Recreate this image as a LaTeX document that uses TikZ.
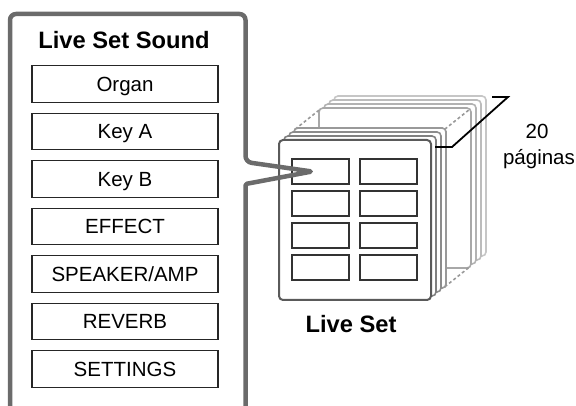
\documentclass[tikz,border=0pt]{standalone}
\usepackage{fontspec}
\setmainfont{Liberation Sans}
\usepackage{tikz}

\definecolor{framegray}{HTML}{6B6B6B}
\definecolor{pagefront}{HTML}{5A5A5A}
\definecolor{pagea}{HTML}{808080}
\definecolor{pageb}{HTML}{8C8C8C}
\definecolor{pagec}{HTML}{999999}
\definecolor{paged}{HTML}{A8A8A8}
\definecolor{pagee}{HTML}{B2B2B2}
\definecolor{pagef}{HTML}{BCBCBC}
\definecolor{pageg}{HTML}{C6C6C6}

\tikzset{
	slot/.style={draw=black!85, line width=1.1pt, minimum width=186pt, minimum height=36.5pt,
		inner sep=0pt, text height=14.7pt, text depth=0pt, font=\fontsize{20.5}{24}\selectfont},
	cell/.style={draw=black!80, line width=1.1pt, minimum width=57pt, minimum height=25pt, inner sep=0pt},
	page/.style={fill=white, rounded corners=4pt, line width=1.6pt, minimum width=152pt,
		minimum height=160pt, inner sep=0pt, outer sep=0pt},
	note/.style={anchor=base, font=\fontsize{20.5}{24}\selectfont},
}

\begin{document}
\begin{tikzpicture}[x=1pt, y=-1pt]
\useasboundingbox (0,0) rectangle (576,406);

% stack of pages, back to front
\foreach \k/\c in {11/pageg, 10/pagef, 9/pagee, 8/paged} {
	\node[page, draw=\c] (page\k) at (355 + 5*\k, 220 - 4*\k) {};
}
\node[page, draw=pagec] (page3) at (370, 208) {};
\draw[pagec, line width=1.6pt, dash pattern=on 3pt off 2.5pt]
	([shift={(1.2,1.2)}]page3.north west) -- ([shift={(1.2,1.2)}]page8.north west);
\draw[pagec, line width=1.6pt, dash pattern=on 3pt off 2.5pt]
	([shift={(-1.2,1.2)}]page3.north east) -- ([shift={(-1.2,1.2)}]page8.north east);
\draw[pagec, line width=1.6pt, dash pattern=on 3pt off 2.5pt]
	([shift={(-1.2,-1.2)}]page3.south east) -- ([shift={(-1.2,-1.2)}]page8.south east);
\node[page, draw=pagec] at (page3) {};
\foreach \k/\c in {2/pageb, 1/pagea} {
	\node[page, draw=\c] (page\k) at (355 + 5*\k, 220 - 4*\k) {};
}
\node[page, draw=pagefront, line width=2pt] (page0) at (355, 220) {};

% buttons on the front page
\foreach \col in {0, 1} {
	\foreach \row in {0, ..., 3} {
		\node[cell] (cell-\col-\row) at (320.5 + 68*\col, 171.5 + 32*\row) {};
	}
}

\node[anchor=base, font=\bfseries\fontsize{23.7}{28}\selectfont] (setname) at (351, 332) {Live Set};

% page count bracket
\coordinate (brk-a) at (435, 147);
\coordinate (brk-b) at (452, 147);
\coordinate (brk-c) at (508, 97);
\coordinate (brk-d) at (492, 97);
\draw[black, line width=1.8pt] (brk-a) -- (brk-b) -- (brk-c) -- (brk-d);
\node[note] (count) at (537, 138.5) {20};
\node[note] (unit) at (539, 165) {páginas};

% sound panel with its pointer into the first button
\coordinate (tip) at ([xshift=-8.5pt]cell-0-0.center);
\draw[framegray, line width=4.5pt, line join=round]
	(10, 410) [rounded corners=6pt] -- (10, 14) -- (245.5, 14) -- (245.5, 162)
	[rounded corners=1.5pt] -- (tip) -- (245.5, 184) -- (245.5, 410);

\node[anchor=base, font=\bfseries\fontsize{23.7}{28}\selectfont] (title) at (124, 48.3) {Live Set Sound};
\foreach \lbl [count=\i from 0] in {Organ, Key A, Key B, EFFECT, SPEAKER/AMP, REVERB, SETTINGS} {
	\node[slot] (slot\i) at (125, 84 + 47.5*\i) {\lbl};
}

\end{tikzpicture}
\end{document}
